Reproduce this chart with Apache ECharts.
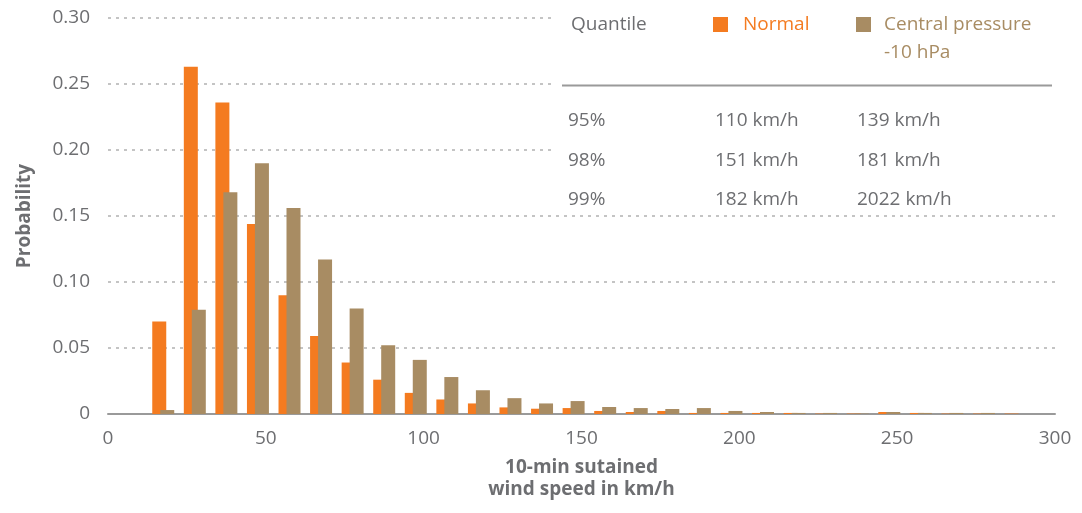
<!DOCTYPE html>
<html>
<head>
<meta charset="utf-8">
<script src="https://cdn.jsdelivr.net/npm/echarts@6/dist/echarts.min.js"></script>
<style>
html,body{margin:0;padding:0;background:#fff;}
#chart{width:1082px;height:513px;}
</style>
</head>
<body>
<div id="chart"></div>
<script>
// ---- data ----
const binCenters = [17.5, 27.5, 37.5, 47.5, 57.5, 67.5, 77.5, 87.5, 97.5, 107.5,
  117.5, 127.5, 137.5, 147.5, 157.5, 167.5, 177.5, 187.5, 197.5, 207.5,
  217.5, 227.5, 237.5, 247.5, 257.5, 267.5, 277.5, 287.5];
const normal = [0.070, 0.263, 0.236, 0.144, 0.090, 0.059, 0.039, 0.026, 0.016, 0.011,
  0.008, 0.005, 0.004, 0.0045, 0.0023, 0.0015, 0.0023, 0.0008, 0.0008, 0.0008,
  0.0008, 0.0003, 0.0003, 0.0015, 0.0008, 0.0003, 0.0003, 0.0003];
const central = [0.003, 0.079, 0.168, 0.190, 0.156, 0.117, 0.080, 0.052, 0.041, 0.028,
  0.018, 0.012, 0.008, 0.0098, 0.0053, 0.0045, 0.0038, 0.0045, 0.0023, 0.0015,
  0.0008, 0.0008, 0.0003, 0.0015, 0.0008, 0.0008, 0.0008, 0];
const seriesNames = ['Normal', 'Central pressure -10 hPa'];
const quantileRows = ['95%', '98%', '99%'];
const quantileNormal = ['110 km/h', '151 km/h', '182 km/h'];
const quantileCentral = ['139 km/h', '181 km/h', '2022 km/h'];

const ORANGE = '#F47B20';
const BROWN = '#A88C63';
const TXT = '#6d6e71';
const FONT = '"Open Sans", "Noto Sans", sans-serif';
const FS = 19;

const chart = echarts.init(document.getElementById('chart'));

const graphics = [];
const tStyle = (extra) => Object.assign({fill: TXT, font: FS + 'px ' + FONT, verticalAlign: 'middle', align: 'left'}, extra);
// white panel behind the quantile table (hides grid lines there)
graphics.push({type: 'rect', z: 50, shape: {x: 555, y: 0, width: 527, height: 212}, style: {fill: '#ffffff'}});
graphics.push({type: 'text', z: 60, x: 571, y: 25, style: tStyle({text: 'Quantile'})});
graphics.push({type: 'rect', z: 60, shape: {x: 713, y: 17, width: 15, height: 15}, style: {fill: ORANGE}});
graphics.push({type: 'text', z: 60, x: 743, y: 25, style: tStyle({text: 'Normal', fill: ORANGE})});
graphics.push({type: 'rect', z: 60, shape: {x: 856, y: 17, width: 15, height: 15}, style: {fill: BROWN}});
graphics.push({type: 'text', z: 60, x: 884, y: 25, style: tStyle({text: 'Central pressure', fill: BROWN})});
graphics.push({type: 'text', z: 60, x: 884, y: 53, style: tStyle({text: '-10 hPa', fill: BROWN})});
graphics.push({type: 'line', z: 60, shape: {x1: 562, y1: 85.5, x2: 1052, y2: 85.5}, style: {stroke: '#9a9a9a', lineWidth: 2}});
const rowY = [121, 161, 200];
quantileRows.forEach((q, i) => {
  graphics.push({type: 'text', z: 60, x: 568, y: rowY[i], style: tStyle({text: q})});
  graphics.push({type: 'text', z: 60, x: 715, y: rowY[i], style: tStyle({text: quantileNormal[i]})});
  graphics.push({type: 'text', z: 60, x: 857, y: rowY[i], style: tStyle({text: quantileCentral[i]})});
});

chart.setOption({
  animation: false,
  textStyle: {fontFamily: FONT},
  grid: {left: 108, right: 27, top: 18, bottom: 99, containLabel: false},
  xAxis: {
    type: 'value', min: 0, max: 300, interval: 50,
    name: '10-min sutained\nwind speed in km/h',
    nameLocation: 'middle', nameGap: 43,
    nameTextStyle: {color: TXT, fontSize: FS, fontWeight: 'bold', lineHeight: 22, fontFamily: FONT},
    axisLine: {lineStyle: {color: '#9a9a9a', width: 2}},
    axisTick: {show: false},
    axisLabel: {color: TXT, fontSize: FS, margin: 15, fontFamily: FONT},
    splitLine: {show: false}
  },
  yAxis: {
    type: 'value', min: 0, max: 0.3, interval: 0.05,
    name: 'Probability', nameLocation: 'middle', nameGap: 74,
    nameTextStyle: {color: TXT, fontSize: FS, fontWeight: 'bold', fontFamily: FONT},
    axisLine: {show: false},
    axisTick: {show: false},
    axisLabel: {color: TXT, fontSize: FS, margin: 18, fontFamily: FONT,
      formatter: v => (v === 0 ? '0' : v.toFixed(2))},
    splitLine: {lineStyle: {color: '#c4c4c4', type: [3, 5], width: 2}}
  },
  series: [
    {name: seriesNames[0], type: 'bar', barWidth: 14, barGap: '-43%',
      itemStyle: {color: ORANGE},
      data: binCenters.map((x, i) => [x, normal[i]])},
    {name: seriesNames[1], type: 'bar', barWidth: 14, barGap: '-43%',
      itemStyle: {color: BROWN},
      data: binCenters.map((x, i) => [x, central[i]])}
  ],
  graphic: graphics
});
</script>
</body>
</html>
